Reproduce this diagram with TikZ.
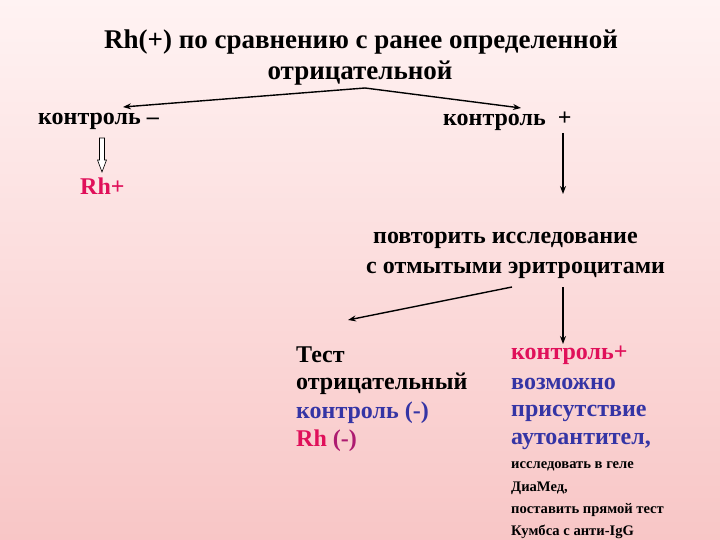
\documentclass[tikz,border=0pt]{standalone}
\usepackage{fontspec}
\setmainfont{Liberation Serif}
\usetikzlibrary{arrows.meta}
\definecolor{crim}{HTML}{E0105A}
\definecolor{blu}{HTML}{3535A5}
\definecolor{bgtop}{HTML}{FFF3F3}
\definecolor{bgbot}{HTML}{F8C6C6}
\begin{document}
\begin{tikzpicture}[x=1pt,y=-1pt,
  txt/.style={font=\bfseries\fontsize{24}{24}\selectfont, inner sep=0pt, anchor=west},
  ttl/.style={font=\bfseries\fontsize{27}{27}\selectfont, inner sep=0pt},
  sml/.style={font=\bfseries\fontsize{14.6}{15}\selectfont, inner sep=0pt, anchor=west},
  arr/.style={-{Stealth[length=8pt,width=6pt]}, line width=1.4pt}]
\shade[top color=bgtop, bottom color=bgbot] (0,0) rectangle (720,540);
\useasboundingbox (0,0) rectangle (720,540);
\node[ttl] (t1) at (361,42) {Rh(+) по сравнению с ранее определенной};
\node[ttl] (t2) at (360,73) {отрицательной};
\coordinate (top) at (365,88);
\node[txt] (cm) at (38,121) {контроль –};
\node[txt] (cp) at (443,121) {контроль\ \ +};
\coordinate (cml) at (123,107);
\coordinate (cpr) at (521,108);
\draw[arr] (top) -- (cml);
\draw[arr] (top) -- (cpr);
\node[txt, text=crim] (rh) at (80,186) {Rh+};
\draw[fill=white, line width=0.6pt] (99.5,138) -- (104.5,138) -- (104.5,160) -- (106.5,160) -- (102,172) -- (97.5,160) -- (99.5,160) -- cycle;
\node[txt] (p1) at (373,240) {повторить исследование};
\node[txt] (p2) at (366,270) {с отмытыми эритроцитами};
\coordinate (cpd) at (563,133);
\coordinate (pt) at (563,194);
\draw[arr] (cpd) -- (pt);
\coordinate (ps) at (512,287);
\coordinate (lt) at (348,320);
\draw[arr] (ps) -- (lt);
\coordinate (ps2) at (563,287);
\coordinate (rt) at (563,344);
\draw[arr] (ps2) -- (rt);
\node[txt] (l1) at (296,355) {Тест};
\node[txt] (l2) at (296,384) {отрицательный};
\node[txt, text=blu] (l3) at (296,413) {контроль (-)};
\node[txt, text=crim] (l4) at (296,441) {Rh \textcolor{crim!70!blu}{(-)}};
\node[txt, text=crim] (r1) at (511,355) {контроль+};
\node[txt, text=blu] (r2) at (511,384) {возможно};
\node[txt, text=blu] (r3) at (511,413) {присутствие};
\node[txt, text=blu] (r4) at (511,441) {аутоантител,};
\node[sml] (r5) at (511,466) {исследовать в геле};
\node[sml] (r6) at (511,488) {ДиаМед,};
\node[sml] (r7) at (511,510) {поставить прямой тест};
\node[sml] (r8) at (511,532) {Кумбса с анти-IgG};
\end{tikzpicture}
\end{document}
